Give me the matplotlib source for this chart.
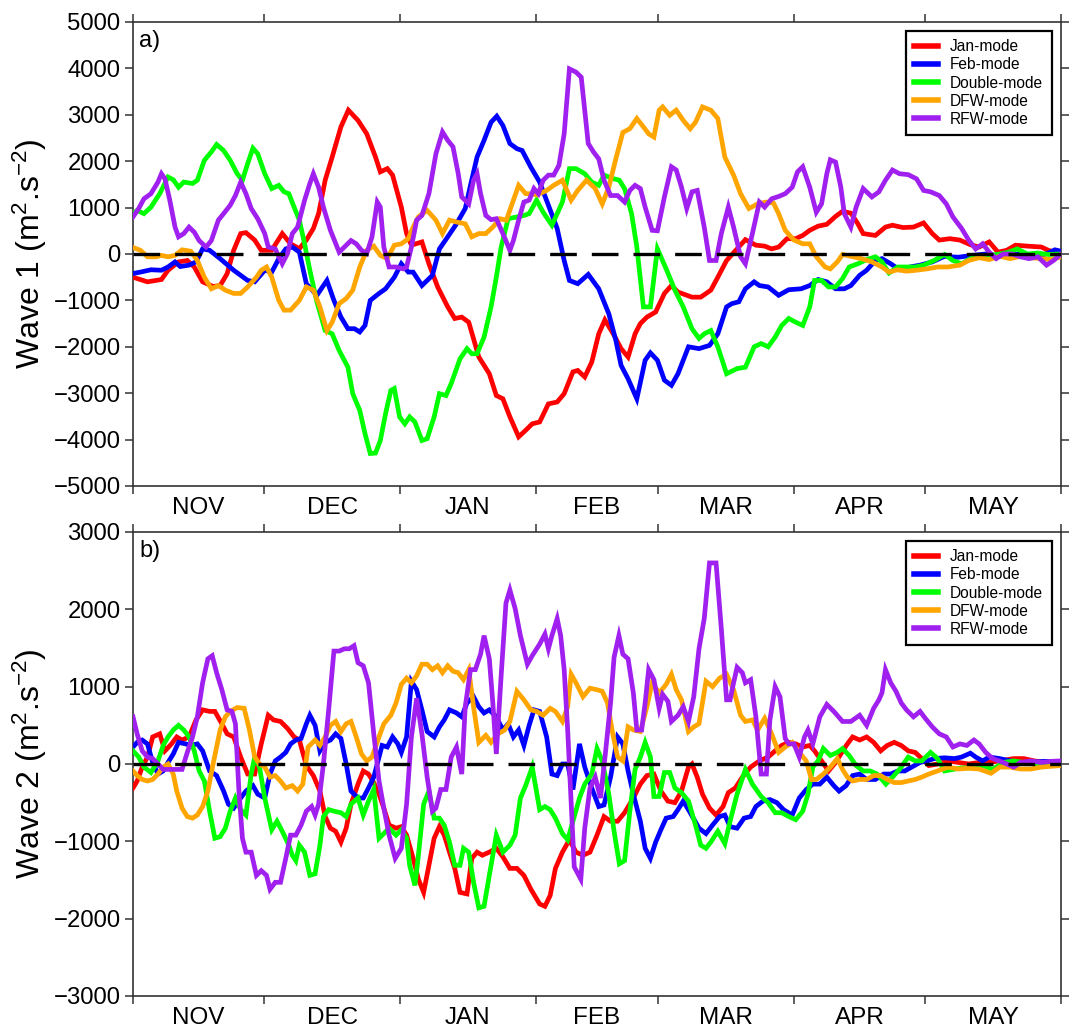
import matplotlib
matplotlib.use("Agg")
import matplotlib.pyplot as plt
import numpy as np

plt.rcParams['font.family'] = ['Liberation Sans', 'DejaVu Sans']
plt.rcParams['mathtext.fontset'] = 'custom'
plt.rcParams['mathtext.rm'] = 'Liberation Sans'
plt.rcParams['mathtext.it'] = 'Liberation Sans'
plt.rcParams['axes.unicode_minus'] = True

# ---------------- data (x = days since 1 November) ----------------
month_labels = ["NOV", "DEC", "JAN", "FEB", "MAR", "APR", "MAY"]
month_starts = [0, 30, 61, 92, 120, 151, 181, 212]
series_names = ["Jan-mode", "Feb-mode", "Double-mode", "DFW-mode", "RFW-mode"]
series_colors = ["#ff0000", "#0000ff", "#00ff00", "#ffa500", "#a020f0"]

# ---- Panel a: Wave 1 ----
a_jan_day = [0,3.3,6.5,8.0,10.4,12.4,14.0,15.9,18.3,19.9,21.5,23.0,24.6,25.8,27.8,29.3,31.7,34.1,36.0,38.0,39.6,41.2,42.4,43.9,45.5,47.5,49.2,51.4,53.4,55.4,56.5,58.1,59.3,61.3,62.5,63.6,66.0,67.6,69.6,71.9,73.5,75.1,76.7,79.0,81.4,83.0,84.5,86.1,88.1,89.7,91.2,
             92.9,94.9,96.9,98.5,100.5,101.6,103.2,104.8,106.4,107.8,109.9,111.5,113.1,114.7,115.9,117.4,119.4,121.4,123.0,124.5,127.7,129.7,132.0,133.6,135.6,138.0,139.9,142.3,144.3,145.9,147.5,149.4,151.4,153.0,154.6,156.5,158.5,160.5,162.1,164.0,165.6,166.8,169.6,171.9,173.5,175.9,178.3,180.6,182.6,184.2,186.6,188.9,191.3,193.3,195.6,197.6,199.6,201.6,204.3,207.5,209.1,211.4]
a_jan_val = [-500,-600,-550,-350,-170,-140,-280,-600,-700,-680,-425,80,440,460,300,80,80,440,220,115,300,550,870,1590,2090,2740,3100,2880,2590,2090,1770,1840,1700,1010,440,190,260,-210,-710,-1140,-1390,-1360,-1470,-2220,-2580,-3050,-3120,-3510,-3940,-3800,-3660,
             -3620,-3230,-3190,-3010,-2540,-2510,-2650,-2330,-1720,-1420,-1750,-2040,-2220,-1720,-1500,-1360,-1250,-850,-680,-820,-930,-930,-780,-500,-140,110,310,190,170,110,150,330,330,400,510,600,640,810,920,880,650,440,400,580,620,570,580,670,440,300,330,300,200,150,260,40,80,190,170,150,80,20]

a_feb_day = [0,1.7,4.1,6.5,8.0,9.6,10.8,12.8,14.4,15.9,17.5,19.9,23.0,26.2,27.8,30.1,31.7,33.3,34.9,36.4,38.0,39.6,42.0,44.3,45.9,47.5,49.1,50.6,51.8,53.0,54.2,56.2,57.7,59.7,61.3,62.9,64.0,66.0,68.4,70.0,71.9,73.9,75.9,77.1,78.6,80.2,81.8,83.1,84.5,86.1,87.7,88.9,90.9,
             92.9,94.9,96.9,98.5,99.7,101.6,104.0,106.4,108.7,110.3,111.5,113.1,115.1,117.0,118.2,119.8,121.4,123.0,124.5,126.9,129.3,131.7,133.6,135.6,136.8,138.4,139.9,141.9,143.1,145.1,147.5,149.8,152.6,154.6,156.5,158.5,160.5,162.5,164.0,166.0,167.6,169.6,171.1,173.1,175.1,177.5,179.8,182.6,185.4,188.5,191.7,194.8,198.0,201.2,204.3,207.5,209.1,210.6,212.0]
a_feb_val = [-420,-390,-340,-350,-280,-170,-270,-240,-170,110,80,-100,-350,-570,-600,-350,-390,-100,110,150,40,-640,-890,-570,-1000,-1360,-1610,-1610,-1680,-1540,-1000,-850,-750,-500,-210,-390,-390,-680,-460,110,370,650,980,1480,2090,2450,2840,2970,2770,2380,2270,2230,1870,
             1550,1050,550,-140,-570,-640,-440,-750,-1290,-1860,-2400,-2690,-3120,-2290,-2130,-2290,-2720,-2830,-2580,-2000,-2040,-1970,-1720,-1140,-1070,-1030,-750,-600,-680,-710,-890,-770,-750,-680,-550,-600,-750,-750,-680,-460,-350,-140,-100,-210,-340,-280,-240,-170,-50,-70,-30,0,-50,0,-10,-30,20,90,60]

a_dbl_day = [0,0.95,2.5,4.1,6.1,8.0,9.2,10.4,11.6,13.6,14.7,16.3,17.9,19.1,20.7,22.2,23.8,25.0,26.2,27.4,28.5,30.1,31.7,33.3,34.5,35.6,36.8,38.0,39.2,40.4,42.0,43.9,45.5,47.1,49.1,50.2,51.8,53.0,54.2,55.4,56.5,57.7,58.9,59.7,60.9,62.1,63.2,64.4,66.0,67.2,68.8,70.0,71.5,72.7,74.7,76.3,77.4,78.6,80.2,81.8,83.0,84.1,85.7,87.7,89.3,90.5,
             92.2,93.7,95.7,96.9,98.1,99.7,101.2,103.2,104.8,106.4,107.6,109.5,111.1,112.3,113.9,115.1,116.6,118.2,119.8,121.8,123.8,125.7,127.7,129.3,130.5,132.0,133.6,135.6,138.0,139.9,141.9,143.5,145.1,146.7,148.2,149.8,151.4,153.0,154.6,155.7,157.3,158.9,160.5,162.1,163.6,165.6,167.6,169.6,171.1,172.7,174.7,176.7,178.7,180.6,183.0,185.4,187.3,189.3,191.3,193.3,195.6,198.0,200.0,202.0,204.3,206.7,209.1,212.0]
a_dbl_val = [870,940,870,1010,1300,1660,1600,1440,1550,1520,1590,2020,2200,2360,2230,2020,1730,1590,1950,2280,2160,1730,1410,1480,1340,1300,1010,730,220,-350,-1030,-1650,-1720,-2080,-2440,-3010,-3370,-3870,-4300,-4290,-4020,-3440,-2940,-2900,-3510,-3660,-3510,-3620,-4020,-3980,-3510,-3010,-3050,-2790,-2260,-2040,-2150,-2150,-1790,-1140,-500,150,760,800,830,870,
             1160,900,620,870,1120,1840,1840,1730,1550,1480,1700,1630,1590,1410,870,150,-1140,-1140,110,-320,-780,-1140,-1610,-1820,-1720,-1650,-2000,-2580,-2470,-2440,-2000,-1930,-2000,-1790,-1540,-1390,-1470,-1540,-1140,-570,-570,-710,-710,-530,-280,-210,-120,-60,-170,-410,-280,-280,-280,-240,-140,-10,-140,-210,-100,-50,-30,0,40,110,0,20,-10,0]

a_dfw_day = [0,1.7,3.3,5.3,6.5,8.0,9.6,11.2,13.2,14.7,16.3,17.9,19.5,21.1,23.0,24.6,26.2,28.2,29.3,30.5,31.7,33.3,34.5,36.0,38.0,39.6,41.2,42.7,44.3,45.5,47.1,48.7,50.2,51.8,53.4,55.0,56.5,58.1,59.7,61.3,62.9,64.0,65.2,67.2,69.2,70.7,72.3,73.9,75.9,77.4,79.0,80.6,82.2,83.8,85.3,86.9,88.1,89.7,91.2,
             92.2,94.5,96.1,98.1,100.1,101.6,103.6,105.6,107.2,108.7,110.3,111.9,113.5,115.1,116.6,117.8,119.0,120.2,121.0,122.6,124.1,125.7,127.3,128.5,130.1,132.0,133.6,135.2,137.2,138.8,140.7,142.7,144.7,146.3,147.5,149.0,151.0,153.0,154.6,156.1,158.1,159.3,160.9,162.1,164.0,166.4,168.8,171.1,172.7,174.7,176.7,179.0,181.4,183.8,186.2,188.9,190.9,193.3,195.6,198.0,200.4,202.7,205.1,207.5,209.9,212.0]
a_dfw_val = [140,80,-60,-60,-30,-60,-30,90,60,-140,-500,-750,-680,-780,-850,-850,-710,-500,-350,-280,-500,-1000,-1210,-1210,-1000,-710,-780,-1140,-1650,-1470,-1070,-960,-780,-280,80,170,-30,-100,190,220,330,580,800,940,730,440,730,690,650,370,440,440,580,760,730,1160,1480,1300,1300,
             1270,1370,1480,1590,1160,1370,1590,1410,1080,1440,2050,2620,2700,2920,2740,2590,2520,3100,3170,2990,3100,2880,2700,2840,3170,3100,2920,2090,1700,1300,980,1080,1120,1100,870,510,300,220,220,-60,-280,-320,-170,-10,-50,-100,-170,-280,-390,-340,-370,-350,-320,-280,-280,-240,-140,-80,-120,-50,-100,-50,-80,-100,-120,-60]

a_rfw_day = [0,1.3,2.5,4.1,5.7,6.5,7.3,8.4,9.6,10.4,11.6,12.8,14.0,15.1,16.7,17.9,19.5,20.7,22.2,23.4,24.6,25.8,27.0,28.5,30.1,30.9,32.5,34.1,35.3,36.4,37.6,39.2,40.4,41.2,42.4,43.5,45.1,47.1,48.3,49.8,51.0,52.2,53.4,54.6,55.8,56.5,57.3,58.5,60.1,61.7,62.5,63.6,64.8,66.0,67.6,69.2,70.7,71.9,73.1,74.3,75.1,76.7,77.8,78.6,79.4,80.6,81.8,83.0,84.5,86.1,86.9,88.1,89.3,90.5,91.6,
             92.6,93.7,94.9,96.1,97.3,98.5,99.7,101.2,102.4,104.0,105.2,106.4,107.6,109.1,110.7,112.3,113.5,114.7,115.9,117.0,118.6,119.8,121.4,123.0,124.1,125.3,126.5,127.7,128.9,130.5,131.7,133.2,134.4,136.0,137.2,138.8,139.9,141.5,143.1,144.3,145.9,147.5,149.0,150.6,151.8,153.0,154.6,156.1,157.3,158.5,159.3,160.5,161.7,162.5,164.0,165.2,166.8,168.8,170.4,171.9,173.5,175.1,177.1,179.0,180.6,182.2,184.2,185.8,187.3,189.3,190.9,192.5,194.1,195.6,197.2,198.8,200.8,202.7,204.7,206.7,208.7,210.3,212.0]
a_rfw_val = [800,980,1190,1300,1550,1730,1620,1160,580,370,440,580,470,290,150,290,730,870,1050,1260,1550,1300,980,760,440,150,110,-210,10,440,580,1160,1520,1730,1440,1010,510,40,150,290,220,80,10,370,1120,1010,150,-280,-280,-320,-280,150,730,830,1300,2160,2630,2450,2310,1730,1230,1080,1590,1730,1300,830,740,760,440,80,290,730,1120,1160,1410,
             1300,1590,1700,1700,1910,2590,3990,3920,3810,2380,2200,2050,1590,1260,1260,1120,1370,1480,1410,1010,510,500,1230,1880,1810,1440,980,1340,1370,580,-140,-140,440,1010,580,-60,-210,440,1120,1010,1190,1240,1300,1440,1770,1880,1440,900,1080,1730,2030,1980,1440,870,580,1010,1410,1230,1340,1590,1810,1730,1710,1620,1370,1340,1260,1080,800,550,300,110,220,40,-100,0,0,-60,-100,-60,-240,-140,0]

# ---- Panel b: Wave 2 ----
b_jan_day = [0,0.95,2.1,3.3,4.5,6.1,7.3,8.8,10.0,11.2,12.8,14.4,15.9,17.5,18.7,20.3,21.5,23.0,24.6,26.2,27.8,29.3,30.9,32.1,33.7,35.3,36.8,38.0,39.6,41.2,42.7,43.9,45.1,46.3,47.5,48.7,49.8,51.4,52.6,53.8,55.0,56.2,57.3,58.5,60.1,61.3,62.5,64.0,65.2,66.4,67.6,68.8,70.0,71.1,72.3,73.5,74.7,76.3,77.4,78.6,79.8,81.4,83.0,84.5,86.1,87.7,89.3,90.9,
             92.9,94.1,95.3,96.5,98.1,99.7,101.2,102.8,104.4,106.0,107.6,109.1,110.7,112.3,114.3,115.9,117.4,119.0,120.6,122.2,123.8,125.3,126.9,127.7,128.9,130.1,131.7,133.2,134.8,136.0,137.6,139.2,141.1,143.1,145.1,146.7,148.2,149.8,151.4,153.0,154.6,155.7,157.3,158.9,160.5,161.7,163.2,164.4,166.0,167.6,169.2,170.8,172.3,173.9,175.5,177.1,178.7,180.2,181.8,183.8,186.2,188.5,190.9,193.3,195.6,198.0,201.2,203.5,205.9,208.3,212.0]
b_jan_val = [-310,-220,-40,90,350,390,170,260,350,310,350,570,700,680,680,520,390,350,90,-130,-130,260,630,570,550,460,350,310,-20,-150,-350,-680,-830,-870,-1010,-830,-520,-260,-90,-130,-240,-390,-570,-790,-830,-810,-920,-1220,-1490,-1660,-1310,-960,-810,-920,-1140,-1350,-1660,-1680,-1220,-1140,-1180,-1140,-1090,-1200,-1350,-1350,-1440,-1620,
             -1810,-1840,-1700,-1350,-1140,-980,-1140,-1180,-1140,-920,-680,-740,-740,-630,-440,-260,-150,-130,-350,-480,-500,-350,-40,0,-170,-390,-570,-660,-550,-370,-310,-170,-40,40,90,170,240,280,260,220,240,170,40,-90,20,130,260,350,310,350,280,170,240,280,240,170,150,70,-20,0,40,20,0,20,20,40,70,70,40,20,20]

b_feb_day = [0,0.95,2.1,3.3,4.5,5.7,6.9,8.0,9.2,10.4,12.0,13.2,14.7,15.9,17.5,19.1,20.7,21.8,23.0,24.6,25.8,27.4,28.5,30.1,31.3,32.5,33.7,34.9,36.0,37.2,38.4,39.6,40.4,41.6,42.7,43.9,45.1,46.3,47.5,48.7,49.8,51.4,52.6,53.8,55.0,56.2,56.9,58.1,59.3,60.5,61.3,62.5,63.6,64.8,66.0,67.2,68.8,70.0,71.1,72.3,73.9,75.1,76.3,77.8,79.0,80.2,81.4,83.0,84.5,85.7,86.9,88.1,89.3,90.5,91.6,
             92.9,94.5,95.7,96.9,98.1,99.3,100.5,102.0,103.2,104.8,106.4,107.6,109.1,110.7,111.9,113.1,114.3,115.9,117.0,118.2,119.4,120.6,121.8,123.4,124.5,125.7,127.3,129.3,130.9,132.4,134.0,135.2,136.4,138.0,139.6,141.1,142.3,143.9,145.5,147.1,148.6,150.6,152.2,153.8,155.3,156.9,158.5,160.1,161.3,162.9,164.4,166.0,167.6,169.6,171.5,173.1,174.7,176.3,177.9,179.8,181.4,183.0,185.4,187.7,189.3,191.3,192.5,194.1,195.6,198.0,200.4,202.7,205.1,208.3,212.0]
b_feb_val = [220,280,310,260,20,-130,-90,20,130,280,260,240,260,170,-90,-150,-350,-520,-570,-440,-350,-280,-390,-440,-130,40,90,150,260,310,330,520,630,500,170,280,310,390,330,0,-350,-440,-440,-310,-170,90,240,220,350,260,150,350,1070,960,700,420,350,480,570,700,660,610,790,870,740,660,700,610,440,520,350,440,240,500,700,
             680,350,-130,-150,0,0,-330,260,-40,-310,-550,-530,-170,350,260,-90,-390,-740,-1090,-1220,-1010,-850,-700,-680,-590,-480,-630,-830,-900,-790,-680,-660,-810,-830,-700,-680,-550,-480,-460,-500,-590,-660,-440,-330,-260,-260,-170,-280,-350,-280,-150,-130,-200,-200,-130,-130,-90,-90,-40,20,40,70,80,70,90,140,90,40,90,70,40,20,20,35,20]

b_dbl_day = [0,1.3,2.5,4.1,5.7,6.9,8.0,9.2,10.4,11.6,12.8,14.0,15.1,16.3,17.5,18.7,19.9,21.1,22.2,23.4,24.6,25.8,27.0,27.8,28.9,30.1,31.7,32.9,34.1,35.6,36.4,37.2,38.0,39.2,40.4,41.6,42.7,43.5,44.7,45.9,47.5,48.7,49.8,51.4,52.6,53.8,55.0,56.2,57.3,58.5,60.1,61.3,62.5,63.2,64.4,65.2,66.4,67.6,68.8,70.0,71.1,72.3,73.5,74.7,75.5,76.7,77.8,79.0,80.2,81.4,83.0,84.5,86.1,87.3,88.5,89.7,91.2,
             92.9,94.1,95.3,96.5,98.1,99.3,100.5,102.0,103.2,104.8,106.0,107.2,108.7,109.9,111.1,112.3,113.5,114.7,115.9,117.0,118.2,119.0,120.2,121.4,122.6,123.8,125.3,126.9,128.5,129.7,130.9,132.0,133.6,135.2,136.4,138.0,139.9,141.5,143.5,145.1,146.7,148.2,149.8,151.4,153.0,154.2,155.3,156.5,157.7,159.3,160.9,162.1,163.6,165.2,166.8,168.4,170.0,172.0,173.5,175.1,177.1,178.7,180.2,182.2,183.8,185.4,187.3,189.3,191.7,194.1,196.4,198.8,201.2,203.5,205.9,208.3,212.0]
b_dbl_val = [170,90,-40,-110,40,240,350,440,500,440,350,170,-90,-220,-610,-960,-940,-830,-610,-440,-590,-660,-130,90,-40,-440,-850,-740,-870,-1050,-1180,-1250,-1050,-1140,-1440,-1420,-1050,-680,-590,-610,-630,-680,-520,-440,-660,-480,-330,-960,-900,-830,-920,-850,-960,-1310,-1570,-1180,-520,-350,-700,-700,-790,-1010,-1310,-1310,-1090,-1140,-1530,-1860,-1840,-1440,-920,-1140,-1050,-920,-440,-280,-40,
             -590,-550,-590,-700,-900,-980,-740,-440,-260,-130,200,40,-390,-870,-1290,-1250,-610,-70,90,280,90,-420,-420,-110,-110,-310,-370,-480,-790,-1050,-1090,-1010,-870,-1030,-740,-390,-70,-260,-420,-500,-630,-630,-680,-720,-610,-390,-40,40,200,110,150,200,110,-20,-90,-90,-130,-260,-170,-70,90,40,40,150,70,-90,-70,-50,-50,-20,-70,20,40,20,0,0,-20]

b_dfw_day = [0,0.95,2.1,3.3,4.5,5.7,6.9,8.0,9.2,10.0,11.2,12.4,13.6,14.7,15.9,17.1,18.3,19.9,21.1,22.2,23.8,25.4,26.6,27.8,28.9,30.1,31.3,32.5,33.7,34.9,36.4,37.6,38.8,40.0,41.6,42.7,43.9,45.1,46.3,47.5,48.7,49.8,51.0,52.2,53.4,54.6,56.2,57.3,58.9,60.1,61.3,62.5,63.6,64.8,66.0,67.2,68.4,69.6,70.7,71.9,73.1,74.3,75.5,76.7,77.8,79.0,80.6,81.8,83.4,84.9,86.1,87.7,89.3,90.9,
             92.2,93.7,95.3,96.5,98.1,99.3,100.1,101.2,102.8,104.4,106.0,107.2,108.4,109.5,110.7,111.9,113.1,114.3,115.9,117.4,118.6,120.2,121.8,123.0,124.1,125.3,126.9,128.1,129.3,130.9,132.4,134.0,135.6,137.2,138.8,139.9,141.5,142.7,144.3,145.9,147.5,149.0,150.6,152.2,153.8,155.0,156.1,157.7,159.3,160.9,162.1,163.2,164.4,166.0,167.6,169.2,170.8,172.3,173.9,175.5,177.1,178.7,180.2,181.8,183.8,186.2,188.5,190.9,193.3,196.0,198.0,200.4,202.7,205.1,207.5,212.0]
b_dfw_val = [-90,-150,-200,-220,-200,-130,-40,0,-130,-350,-570,-680,-700,-660,-550,-350,0,440,610,680,730,720,440,90,0,-40,-170,-150,-220,-310,-280,-350,-260,220,310,240,350,500,550,420,520,550,350,130,40,90,350,520,630,790,1030,1110,1050,1140,1290,1290,1220,1270,1180,1270,1200,1180,1090,1220,740,280,370,280,390,440,550,940,830,700,
             680,630,720,680,550,740,1160,1050,870,980,960,940,790,420,90,40,480,440,420,740,1050,920,1030,1160,960,830,420,480,520,1070,1000,1110,1160,960,630,550,570,440,590,390,150,220,280,150,40,-200,-200,-130,-40,70,-70,-170,-220,-200,-200,-150,-150,-200,-240,-240,-220,-200,-170,-130,-90,-40,-65,-55,-65,-120,-40,-40,-65,-65,-40,-20]

b_rfw_day = [0,0.95,2.1,3.3,4.5,5.7,6.9,8.0,9.6,11.2,12.4,13.6,14.7,15.9,17.1,18.1,19.1,20.3,21.5,22.6,23.4,24.2,25.0,25.8,27.0,28.2,29.3,30.5,31.3,32.5,33.7,34.9,36.0,37.2,38.4,39.6,40.8,41.6,42.4,43.5,44.7,45.9,47.1,48.3,49.4,50.5,51.4,52.6,53.8,55.0,56.2,57.3,58.5,59.9,61.3,62.5,63.6,64.8,66.0,67.2,68.4,69.2,70.3,71.5,72.7,73.9,75.1,75.9,77.1,78.2,79.4,80.2,81.4,82.2,83.0,84.1,85.2,86.1,87.3,88.5,90.1,91.2,
             92.9,94.1,94.9,95.7,96.9,97.7,98.5,99.3,100.1,100.8,102.3,103.2,104.4,105.6,106.8,107.9,109.1,109.9,111.0,111.9,113.1,114.3,115.1,116.2,117.0,117.8,119.0,120.2,121.0,122.2,123.0,124.5,125.7,126.9,128.1,129.3,130.5,131.7,133.2,134.4,135.6,136.4,137.2,138.0,139.2,139.9,141.1,142.3,143.5,144.7,145.5,146.7,147.8,149.0,149.8,151.0,152.2,153.4,154.2,155.3,156.9,158.5,160.1,162.1,164.0,166.0,167.6,169.2,170.4,171.1,171.9,173.1,174.3,175.5,176.7,178.3,179.8,181.0,182.6,184.2,185.8,187.3,188.9,190.5,192.1,193.3,194.8,196.4,198.8,201.2,202.7,205.1,207.5,209.9,212.0]
b_rfw_val = [610,390,170,90,70,0,-70,-70,-70,-70,150,350,610,1050,1360,1400,1180,960,700,680,520,-350,-960,-1140,-1140,-1440,-1380,-1440,-1620,-1530,-1530,-1220,-920,-920,-790,-610,-550,-660,-520,0,700,1460,1460,1490,1490,1530,1310,1270,1050,390,-220,-570,-920,-1220,-1090,-520,350,850,390,-170,-610,-570,-330,-330,90,220,-130,740,1220,1220,1420,1660,1360,790,130,1140,2080,2250,2010,1660,1290,1400,
             1550,1680,1490,1660,1880,1660,1220,440,-520,-1330,-1490,-830,-310,-170,-440,130,790,1380,1660,1420,1360,920,440,440,790,1220,1090,720,900,810,550,630,740,550,870,1490,1880,2600,2600,1750,830,830,1050,1250,1180,1050,1090,610,-130,-130,570,1000,870,330,260,260,90,350,440,260,610,770,680,550,550,630,500,720,830,920,1220,1050,940,790,700,610,680,590,480,390,350,220,260,240,310,260,150,70,20,-40,20,40,20,35,40]

panel_a = [(a_jan_day, a_jan_val), (a_feb_day, a_feb_val), (a_dbl_day, a_dbl_val),
           (a_dfw_day, a_dfw_val), (a_rfw_day, a_rfw_val)]
panel_b = [(b_jan_day, b_jan_val), (b_feb_day, b_feb_val), (b_dbl_day, b_dbl_val),
           (b_dfw_day, b_dfw_val), (b_rfw_day, b_rfw_val)]

# ---------------- figure ----------------
W, H = 1072, 1029
fig = plt.figure(figsize=(W / 100, H / 100), dpi=100)
left = 133 / W
width = (1061 - 133) / W
ax_a = fig.add_axes([left, 1 - 486 / H, width, 464 / H])
ax_b = fig.add_axes([left, 1 - 996 / H, width, 464 / H])

month_centers = [(month_starts[i] + month_starts[i + 1]) / 2 for i in range(len(month_labels))]


def style(ax, data, ylim, yticks, ylabel, tag):
    for (d, v), name, c in zip(data, series_names, series_colors):
        ax.plot(d, v, color=c, lw=3.4, label=name, solid_joinstyle='miter', zorder=3)
    ax.axhline(0, color='black', lw=2.4, dashes=(8, 4.5), zorder=5)
    ax.set_xlim(month_starts[0], month_starts[-1])
    ax.set_ylim(*ylim)
    ax.set_yticks(yticks)
    ax.set_yticklabels([f"{t}".replace('-', '\u2212') for t in yticks])
    ax.set_xticks(month_starts)
    ax.set_xticklabels([])
    ax.set_xticks(month_centers, minor=True)
    ax.set_xticklabels(month_labels, minor=True)
    ax.tick_params(which='major', direction='out', length=6, width=1.1, color='#333333',
                   top=True, right=True, labelsize=17.2, pad=3)
    ax.tick_params(which='minor', length=0, labelsize=17.5, pad=8)
    for s in ax.spines.values():
        s.set_linewidth(1.2)
        s.set_color('#333333')
    ax.set_ylabel(ylabel, fontsize=23, labelpad=3)
    ax.text(0.007, 0.983, tag, transform=ax.transAxes, ha='left', va='top', fontsize=17)
    leg = ax.legend(loc='upper right', bbox_to_anchor=(0.990, 0.981), fontsize=11.2,
                    frameon=True, fancybox=False, edgecolor='black', framealpha=1,
                    handlelength=1.55, handletextpad=0.75, labelspacing=0.2,
                    borderpad=0.55, borderaxespad=0)
    leg.get_frame().set_linewidth(1.6)
    for line in leg.get_lines():
        line.set_linewidth(4)


style(ax_a, panel_a, (-5000, 5000), list(range(-5000, 5001, 1000)),
      r"Wave 1 (m$^{2}$.s$^{-2}$)", "a)")
style(ax_b, panel_b, (-3000, 3000), list(range(-3000, 3001, 1000)),
      r"Wave 2 (m$^{2}$.s$^{-2}$)", "b)")

fig.savefig("out.png", dpi=100)
